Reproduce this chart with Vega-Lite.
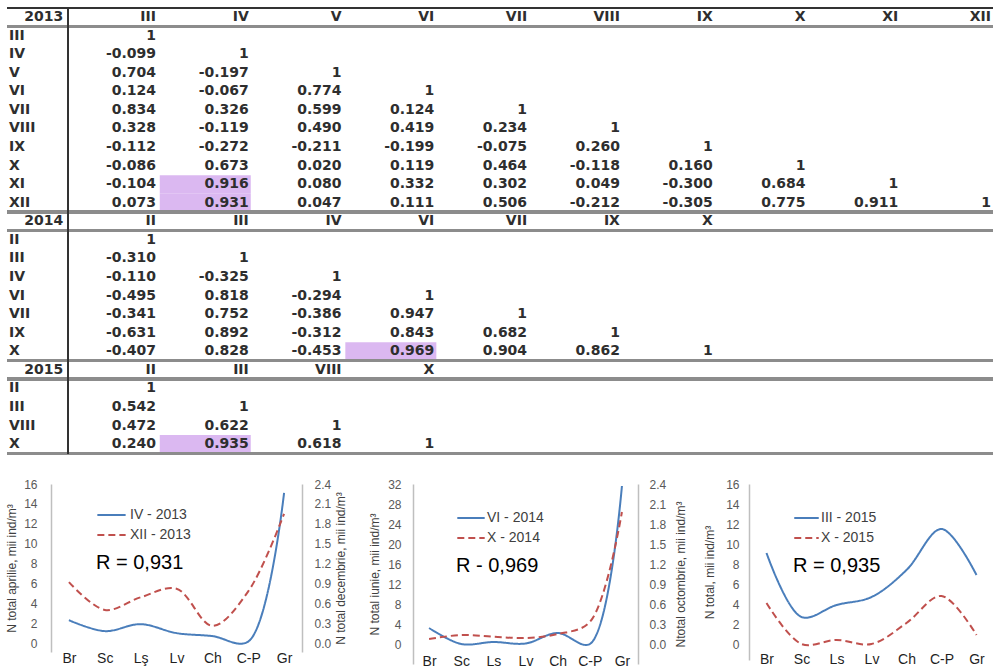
{
  "$schema": "https://vega.github.io/schema/vega-lite/v6.json",
  "padding": {"left": 5, "top": 0, "right": 0, "bottom": 0},
  "background": "white",
  "config": {"view": {"stroke": null}, "font": "Liberation Sans"},
  "datasets": {
    "cells": [
      {"r":0,"c":0,"t":"2013","h":1},{"r":0,"c":1,"t":"III","h":1},{"r":0,"c":2,"t":"IV","h":1},{"r":0,"c":3,"t":"V","h":1},{"r":0,"c":4,"t":"VI","h":1},{"r":0,"c":5,"t":"VII","h":1},{"r":0,"c":6,"t":"VIII","h":1},{"r":0,"c":7,"t":"IX","h":1},{"r":0,"c":8,"t":"X","h":1},{"r":0,"c":9,"t":"XI","h":1},{"r":0,"c":10,"t":"XII","h":1},
      {"r":1,"c":0,"t":"III"},{"r":1,"c":1,"t":"1"},
      {"r":2,"c":0,"t":"IV"},{"r":2,"c":1,"t":"-0.099"},{"r":2,"c":2,"t":"1"},
      {"r":3,"c":0,"t":"V"},{"r":3,"c":1,"t":"0.704"},{"r":3,"c":2,"t":"-0.197"},{"r":3,"c":3,"t":"1"},
      {"r":4,"c":0,"t":"VI"},{"r":4,"c":1,"t":"0.124"},{"r":4,"c":2,"t":"-0.067"},{"r":4,"c":3,"t":"0.774"},{"r":4,"c":4,"t":"1"},
      {"r":5,"c":0,"t":"VII"},{"r":5,"c":1,"t":"0.834"},{"r":5,"c":2,"t":"0.326"},{"r":5,"c":3,"t":"0.599"},{"r":5,"c":4,"t":"0.124"},{"r":5,"c":5,"t":"1"},
      {"r":6,"c":0,"t":"VIII"},{"r":6,"c":1,"t":"0.328"},{"r":6,"c":2,"t":"-0.119"},{"r":6,"c":3,"t":"0.490"},{"r":6,"c":4,"t":"0.419"},{"r":6,"c":5,"t":"0.234"},{"r":6,"c":6,"t":"1"},
      {"r":7,"c":0,"t":"IX"},{"r":7,"c":1,"t":"-0.112"},{"r":7,"c":2,"t":"-0.272"},{"r":7,"c":3,"t":"-0.211"},{"r":7,"c":4,"t":"-0.199"},{"r":7,"c":5,"t":"-0.075"},{"r":7,"c":6,"t":"0.260"},{"r":7,"c":7,"t":"1"},
      {"r":8,"c":0,"t":"X"},{"r":8,"c":1,"t":"-0.086"},{"r":8,"c":2,"t":"0.673"},{"r":8,"c":3,"t":"0.020"},{"r":8,"c":4,"t":"0.119"},{"r":8,"c":5,"t":"0.464"},{"r":8,"c":6,"t":"-0.118"},{"r":8,"c":7,"t":"0.160"},{"r":8,"c":8,"t":"1"},
      {"r":9,"c":0,"t":"XI"},{"r":9,"c":1,"t":"-0.104"},{"r":9,"c":2,"t":"0.916","hl":1},{"r":9,"c":3,"t":"0.080"},{"r":9,"c":4,"t":"0.332"},{"r":9,"c":5,"t":"0.302"},{"r":9,"c":6,"t":"0.049"},{"r":9,"c":7,"t":"-0.300"},{"r":9,"c":8,"t":"0.684"},{"r":9,"c":9,"t":"1"},
      {"r":10,"c":0,"t":"XII"},{"r":10,"c":1,"t":"0.073"},{"r":10,"c":2,"t":"0.931","hl":1},{"r":10,"c":3,"t":"0.047"},{"r":10,"c":4,"t":"0.111"},{"r":10,"c":5,"t":"0.506"},{"r":10,"c":6,"t":"-0.212"},{"r":10,"c":7,"t":"-0.305"},{"r":10,"c":8,"t":"0.775"},{"r":10,"c":9,"t":"0.911"},{"r":10,"c":10,"t":"1"},
      {"r":11,"c":0,"t":"2014","h":1},{"r":11,"c":1,"t":"II","h":1},{"r":11,"c":2,"t":"III","h":1},{"r":11,"c":3,"t":"IV","h":1},{"r":11,"c":4,"t":"VI","h":1},{"r":11,"c":5,"t":"VII","h":1},{"r":11,"c":6,"t":"IX","h":1},{"r":11,"c":7,"t":"X","h":1},
      {"r":12,"c":0,"t":"II"},{"r":12,"c":1,"t":"1"},
      {"r":13,"c":0,"t":"III"},{"r":13,"c":1,"t":"-0.310"},{"r":13,"c":2,"t":"1"},
      {"r":14,"c":0,"t":"IV"},{"r":14,"c":1,"t":"-0.110"},{"r":14,"c":2,"t":"-0.325"},{"r":14,"c":3,"t":"1"},
      {"r":15,"c":0,"t":"VI"},{"r":15,"c":1,"t":"-0.495"},{"r":15,"c":2,"t":"0.818"},{"r":15,"c":3,"t":"-0.294"},{"r":15,"c":4,"t":"1"},
      {"r":16,"c":0,"t":"VII"},{"r":16,"c":1,"t":"-0.341"},{"r":16,"c":2,"t":"0.752"},{"r":16,"c":3,"t":"-0.386"},{"r":16,"c":4,"t":"0.947"},{"r":16,"c":5,"t":"1"},
      {"r":17,"c":0,"t":"IX"},{"r":17,"c":1,"t":"-0.631"},{"r":17,"c":2,"t":"0.892"},{"r":17,"c":3,"t":"-0.312"},{"r":17,"c":4,"t":"0.843"},{"r":17,"c":5,"t":"0.682"},{"r":17,"c":6,"t":"1"},
      {"r":18,"c":0,"t":"X"},{"r":18,"c":1,"t":"-0.407"},{"r":18,"c":2,"t":"0.828"},{"r":18,"c":3,"t":"-0.453"},{"r":18,"c":4,"t":"0.969","hl":1},{"r":18,"c":5,"t":"0.904"},{"r":18,"c":6,"t":"0.862"},{"r":18,"c":7,"t":"1"},
      {"r":19,"c":0,"t":"2015","h":1},{"r":19,"c":1,"t":"II","h":1},{"r":19,"c":2,"t":"III","h":1},{"r":19,"c":3,"t":"VIII","h":1},{"r":19,"c":4,"t":"X","h":1},
      {"r":20,"c":0,"t":"II"},{"r":20,"c":1,"t":"1"},
      {"r":21,"c":0,"t":"III"},{"r":21,"c":1,"t":"0.542"},{"r":21,"c":2,"t":"1"},
      {"r":22,"c":0,"t":"VIII"},{"r":22,"c":1,"t":"0.472"},{"r":22,"c":2,"t":"0.622"},{"r":22,"c":3,"t":"1"},
      {"r":23,"c":0,"t":"X"},{"r":23,"c":1,"t":"0.240"},{"r":23,"c":2,"t":"0.935","hl":1},{"r":23,"c":3,"t":"0.618"},{"r":23,"c":4,"t":"1"}
    ],
    "curves": [
      {"chart":1,"series":"IV - 2013","axis":"L","site":"Br","value":2.3},
      {"chart":1,"series":"IV - 2013","axis":"L","site":"Sc","value":1.2},
      {"chart":1,"series":"IV - 2013","axis":"L","site":"Lş","value":1.9},
      {"chart":1,"series":"IV - 2013","axis":"L","site":"Lv","value":1.0},
      {"chart":1,"series":"IV - 2013","axis":"L","site":"Ch","value":0.7},
      {"chart":1,"series":"IV - 2013","axis":"L","site":"C-P","value":0.15},
      {"chart":1,"series":"IV - 2013","axis":"L","site":"Gr","value":15.1},
      {"chart":1,"series":"XII - 2013","axis":"R","site":"Br","value":0.92},
      {"chart":1,"series":"XII - 2013","axis":"R","site":"Sc","value":0.5},
      {"chart":1,"series":"XII - 2013","axis":"R","site":"Lş","value":0.69},
      {"chart":1,"series":"XII - 2013","axis":"R","site":"Lv","value":0.82},
      {"chart":1,"series":"XII - 2013","axis":"R","site":"Ch","value":0.26},
      {"chart":1,"series":"XII - 2013","axis":"R","site":"C-P","value":0.78},
      {"chart":1,"series":"XII - 2013","axis":"R","site":"Gr","value":1.95},
      {"chart":2,"series":"VI - 2014","axis":"L","site":"Br","value":3.2},
      {"chart":2,"series":"VI - 2014","axis":"L","site":"Sc","value":0.0},
      {"chart":2,"series":"VI - 2014","axis":"L","site":"Ls","value":0.4},
      {"chart":2,"series":"VI - 2014","axis":"L","site":"Lv","value":0.1},
      {"chart":2,"series":"VI - 2014","axis":"L","site":"Ch","value":2.2},
      {"chart":2,"series":"VI - 2014","axis":"L","site":"C-P","value":0.0},
      {"chart":2,"series":"VI - 2014","axis":"L","site":"Gr","value":31.6},
      {"chart":2,"series":"X - 2014","axis":"R","site":"Br","value":0.075},
      {"chart":2,"series":"X - 2014","axis":"R","site":"Sc","value":0.135},
      {"chart":2,"series":"X - 2014","axis":"R","site":"Ls","value":0.11},
      {"chart":2,"series":"X - 2014","axis":"R","site":"Lv","value":0.09},
      {"chart":2,"series":"X - 2014","axis":"R","site":"Ch","value":0.15},
      {"chart":2,"series":"X - 2014","axis":"R","site":"C-P","value":0.33},
      {"chart":2,"series":"X - 2014","axis":"R","site":"Gr","value":1.98},
      {"chart":3,"series":"III - 2015","axis":"L","site":"Br","value":9.1},
      {"chart":3,"series":"III - 2015","axis":"L","site":"Sc","value":2.7},
      {"chart":3,"series":"III - 2015","axis":"L","site":"Ls","value":3.9},
      {"chart":3,"series":"III - 2015","axis":"L","site":"Lv","value":4.7},
      {"chart":3,"series":"III - 2015","axis":"L","site":"Ch","value":7.4},
      {"chart":3,"series":"III - 2015","axis":"L","site":"C-P","value":11.5},
      {"chart":3,"series":"III - 2015","axis":"L","site":"Gr","value":6.9},
      {"chart":3,"series":"X - 2015","axis":"L","site":"Br","value":4.1},
      {"chart":3,"series":"X - 2015","axis":"L","site":"Sc","value":0.0},
      {"chart":3,"series":"X - 2015","axis":"L","site":"Ls","value":0.4},
      {"chart":3,"series":"X - 2015","axis":"L","site":"Lv","value":0.0},
      {"chart":3,"series":"X - 2015","axis":"L","site":"Ch","value":2.1},
      {"chart":3,"series":"X - 2015","axis":"L","site":"C-P","value":4.8},
      {"chart":3,"series":"X - 2015","axis":"L","site":"Gr","value":0.9}
    ]
  },
  "vconcat": [
    {
      "width": 943,
      "height": 455,
      "data": {"name": "cells"},
      "encoding": {
        "x": {"field": "c", "type": "quantitative", "scale": {"domain": [-0.1315, 10.032], "nice": false, "zero": false}, "axis": null},
        "y": {"field": "r", "type": "quantitative", "scale": {"domain": [-0.9155, 23.587], "nice": false, "zero": false, "reverse": true}, "axis": null}
      },
      "layer": [
        {
          "transform": [{"filter": "datum.hl == 1"}],
          "mark": {"type": "rect", "color": "#dbb8f1", "xOffset": -89, "x2Offset": 2, "yOffset": -9, "y2Offset": 9.5},
          "encoding": {"x2": {"field": "c"}, "y2": {"field": "r"}}
        },
        {"mark": {"type": "rule", "color": "#333333", "strokeWidth": 1.5}, "encoding": {"x": {"datum": -0.6, "type": "quantitative"}, "x2": {"datum": 10.04}, "y": {"datum": -0.48, "type": "quantitative"}}},
        {"mark": {"type": "rule", "color": "#8c8c8c", "strokeWidth": 2.5}, "encoding": {"x": {"datum": -0.6, "type": "quantitative"}, "x2": {"datum": 10.04}, "y": {"datum": 0.5, "type": "quantitative"}}},
        {"mark": {"type": "rule", "color": "#8c8c8c", "strokeWidth": 2.5}, "encoding": {"x": {"datum": -0.6, "type": "quantitative"}, "x2": {"datum": 10.04}, "y": {"datum": 10.5, "type": "quantitative"}}},
        {"mark": {"type": "rule", "color": "#8c8c8c", "strokeWidth": 2.5}, "encoding": {"x": {"datum": -0.6, "type": "quantitative"}, "x2": {"datum": 10.04}, "y": {"datum": 11.5, "type": "quantitative"}}},
        {"mark": {"type": "rule", "color": "#8c8c8c", "strokeWidth": 2.5}, "encoding": {"x": {"datum": -0.6, "type": "quantitative"}, "x2": {"datum": 10.04}, "y": {"datum": 18.5, "type": "quantitative"}}},
        {"mark": {"type": "rule", "color": "#8c8c8c", "strokeWidth": 2.5}, "encoding": {"x": {"datum": -0.6, "type": "quantitative"}, "x2": {"datum": 10.04}, "y": {"datum": 19.5, "type": "quantitative"}}},
        {"mark": {"type": "rule", "color": "#8c8c8c", "strokeWidth": 2.5}, "encoding": {"x": {"datum": -0.6, "type": "quantitative"}, "x2": {"datum": 10.04}, "y": {"datum": 23.5, "type": "quantitative"}}},
        {"mark": {"type": "rule", "color": "#333333", "strokeWidth": 1.5}, "encoding": {"x": {"datum": 0.052, "type": "quantitative"}, "y": {"datum": -0.48, "type": "quantitative"}, "y2": {"datum": 23.5}}},
        {
          "transform": [{"filter": "datum.c >= 1 || datum.h == 1"}],
          "mark": {"type": "text", "align": "right", "baseline": "middle", "font": "DejaVu Sans", "fontWeight": "bold", "fontSize": 14, "color": "#2e2e2e"},
          "encoding": {"text": {"field": "t"}}
        },
        {
          "transform": [{"filter": "datum.c == 0 && datum.h != 1"}],
          "mark": {"type": "text", "align": "left", "baseline": "middle", "dx": -54.2, "font": "DejaVu Sans", "fontWeight": "bold", "fontSize": 14, "color": "#2e2e2e"},
          "encoding": {"text": {"field": "t"}}
        }
      ]
    },
    {
      "bounds": "flush",
      "spacing": 111,
      "resolve": {"scale": {"color": "independent", "strokeDash": "independent"}, "legend": {"color": "independent", "strokeDash": "independent"}},
      "hconcat": [
        {
          "width": 251,
          "height": 168,
          "data": {"name": "curves"},
          "transform": [{"filter": "datum.chart == 1"}],
          "encoding": {
            "x": {"field": "site", "type": "nominal", "scale": {"type": "point", "domain": ["Br","Sc","Lş","Lv","Ch","C-P","Gr"], "padding": 0.5}, "axis": {"title": null, "domain": false, "ticks": false, "labelAngle": 0, "labelFontSize": 14, "labelColor": "#1f1f1f", "labelPadding": -1}},
            "color": {"field": "series", "type": "nominal", "scale": {"domain": ["IV - 2013","XII - 2013"], "range": ["#4a7ebb","#c0504d"]},
              "legend": {"title": "R = 0,931", "orient": "none", "legendX": 45, "legendY": 21, "direction": "vertical", "titleOrient": "bottom", "titleAnchor": "start", "titleFontSize": 20, "titleFontWeight": "normal", "titleColor": "#000000", "titlePadding": 8, "symbolType": "stroke", "symbolSize": 800, "symbolStrokeWidth": 2, "labelFontSize": 14, "labelColor": "#404040", "labelOffset": 3, "rowPadding": 0, "clipHeight": 20, "padding": 0}},
            "strokeDash": {"field": "series", "type": "nominal", "scale": {"domain": ["IV - 2013","XII - 2013"], "range": [[1,0],[7,4]]},
              "legend": {"title": "R = 0,931", "orient": "none", "legendX": 45, "legendY": 21, "direction": "vertical", "titleOrient": "bottom", "titleAnchor": "start", "titleFontSize": 20, "titleFontWeight": "normal", "titleColor": "#000000", "titlePadding": 8, "symbolType": "stroke", "symbolSize": 800, "symbolStrokeWidth": 2, "labelFontSize": 14, "labelColor": "#404040", "labelOffset": 3, "rowPadding": 0, "clipHeight": 20, "padding": 0}}
          },
          "layer": [
            {
              "transform": [{"filter": "datum.axis == 'L'"}],
              "mark": {"type": "line", "interpolate": "catmull-rom", "strokeWidth": 2},
              "encoding": {"y": {"field": "value", "type": "quantitative", "scale": {"domain": [-0.9, 16], "nice": false, "zero": false},
                "axis": {"title": "N total aprilie, mii ind/m³", "values": [0,2,4,6,8,10,12,14,16], "grid": false, "ticks": false, "domainColor": "#bfbfbf", "domainWidth": 1.5, "labelColor": "#595959", "labelFontSize": 12, "labelPadding": 14, "titleFontSize": 12, "titleFontWeight": "normal", "titleColor": "#404040", "titlePadding": 5}}}
            },
            {
              "transform": [{"filter": "datum.axis == 'R'"}],
              "mark": {"type": "line", "interpolate": "catmull-rom", "strokeWidth": 2},
              "encoding": {"y": {"field": "value", "type": "quantitative", "scale": {"domain": [-0.135, 2.4], "nice": false, "zero": false},
                "axis": {"orient": "right", "title": "N total decembrie, mii ind/m³", "values": [0,0.3,0.6,0.9,1.2,1.5,1.8,2.1,2.4], "format": ".1f", "grid": false, "ticks": false, "domainColor": "#bfbfbf", "domainWidth": 1.5, "labelColor": "#595959", "labelFontSize": 12, "labelPadding": 12, "titleFontSize": 12, "titleFontWeight": "normal", "titleColor": "#404040", "titlePadding": 5, "titleAngle": 270, "titleBaseline": "top"}}}
            }
          ],
          "resolve": {"scale": {"y": "independent"}}
        },
        {
          "width": 225,
          "height": 180,
          "data": {"name": "curves"},
          "transform": [{"filter": "datum.chart == 2"}],
          "encoding": {
            "x": {"field": "site", "type": "nominal", "scale": {"type": "point", "domain": ["Br","Sc","Ls","Lv","Ch","C-P","Gr"], "padding": 0.5}, "axis": {"title": null, "domain": false, "ticks": false, "labelAngle": 0, "labelFontSize": 14, "labelColor": "#1f1f1f", "labelPadding": -10}},
            "color": {"field": "series", "type": "nominal", "scale": {"domain": ["VI - 2014","X - 2014"], "range": ["#4a7ebb","#c0504d"]},
              "legend": {"title": "R - 0,969", "orient": "none", "legendX": 43, "legendY": 24, "direction": "vertical", "titleOrient": "bottom", "titleAnchor": "start", "titleFontSize": 20, "titleFontWeight": "normal", "titleColor": "#000000", "titlePadding": 8, "symbolType": "stroke", "symbolSize": 750, "symbolStrokeWidth": 2, "labelFontSize": 14, "labelColor": "#404040", "labelOffset": 1, "rowPadding": 0, "clipHeight": 20, "padding": 0}},
            "strokeDash": {"field": "series", "type": "nominal", "scale": {"domain": ["VI - 2014","X - 2014"], "range": [[1,0],[7,4]]},
              "legend": {"title": "R - 0,969", "orient": "none", "legendX": 43, "legendY": 24, "direction": "vertical", "titleOrient": "bottom", "titleAnchor": "start", "titleFontSize": 20, "titleFontWeight": "normal", "titleColor": "#000000", "titlePadding": 8, "symbolType": "stroke", "symbolSize": 750, "symbolStrokeWidth": 2, "labelFontSize": 14, "labelColor": "#404040", "labelOffset": 1, "rowPadding": 0, "clipHeight": 20, "padding": 0}}
          },
          "layer": [
            {
              "transform": [{"filter": "datum.axis == 'L'"}],
              "mark": {"type": "line", "interpolate": "catmull-rom", "strokeWidth": 2},
              "encoding": {"y": {"field": "value", "type": "quantitative", "scale": {"domain": [-4, 32], "nice": false, "zero": false},
                "axis": {"title": "N total iunie, mii ind/m³", "values": [0,4,8,12,16,20,24,28,32], "grid": false, "ticks": false, "domainColor": "#bfbfbf", "domainWidth": 1.5, "labelColor": "#595959", "labelFontSize": 12, "labelPadding": 12, "titleFontSize": 12, "titleFontWeight": "normal", "titleColor": "#404040", "titlePadding": 6}}}
            },
            {
              "transform": [{"filter": "datum.axis == 'R'"}],
              "mark": {"type": "line", "interpolate": "catmull-rom", "strokeWidth": 2},
              "encoding": {"y": {"field": "value", "type": "quantitative", "scale": {"domain": [-0.3, 2.4], "nice": false, "zero": false},
                "axis": {"orient": "right", "title": "Ntotal octombrie, mii ind/m³", "values": [0,0.3,0.6,0.9,1.2,1.5,1.8,2.1,2.4], "format": ".1f", "grid": false, "ticks": false, "domainColor": "#bfbfbf", "domainWidth": 1.5, "labelColor": "#595959", "labelFontSize": 12, "labelPadding": 11, "titleFontSize": 12, "titleFontWeight": "normal", "titleColor": "#404040", "titlePadding": 10, "titleAngle": 270, "titleBaseline": "top"}}}
            }
          ],
          "resolve": {"scale": {"y": "independent"}}
        },
        {
          "width": 245,
          "height": 176,
          "data": {"name": "curves"},
          "transform": [{"filter": "datum.chart == 3"}],
          "mark": {"type": "line", "interpolate": "catmull-rom", "strokeWidth": 2},
          "encoding": {
            "x": {"field": "site", "type": "nominal", "scale": {"type": "point", "domain": ["Br","Sc","Ls","Lv","Ch","C-P","Gr"], "padding": 0.5}, "axis": {"title": null, "domain": false, "ticks": false, "labelAngle": 0, "labelFontSize": 14, "labelColor": "#1f1f1f", "labelPadding": -8}},
            "y": {"field": "value", "type": "quantitative", "scale": {"domain": [-1.6, 16], "nice": false, "zero": false},
              "axis": {"title": "N total, mii ind/m³", "values": [0,2,4,6,8,10,12,14,16], "grid": false, "ticks": false, "domainColor": "#bfbfbf", "domainWidth": 1.5, "labelColor": "#595959", "labelFontSize": 12, "labelPadding": 10, "titleFontSize": 12, "titleFontWeight": "normal", "titleColor": "#404040", "titlePadding": 9}},
            "color": {"field": "series", "type": "nominal", "scale": {"domain": ["III - 2015","X - 2015"], "range": ["#4a7ebb","#c0504d"]},
              "legend": {"title": "R = 0,935", "orient": "none", "legendX": 44, "legendY": 24, "direction": "vertical", "titleOrient": "bottom", "titleAnchor": "start", "titleFontSize": 20, "titleFontWeight": "normal", "titleColor": "#000000", "titlePadding": 8, "symbolType": "stroke", "symbolSize": 600, "symbolStrokeWidth": 2, "labelFontSize": 14, "labelColor": "#404040", "labelOffset": 1, "rowPadding": 0, "clipHeight": 20, "padding": 0}},
            "strokeDash": {"field": "series", "type": "nominal", "scale": {"domain": ["III - 2015","X - 2015"], "range": [[1,0],[7,4]]},
              "legend": {"title": "R = 0,935", "orient": "none", "legendX": 44, "legendY": 24, "direction": "vertical", "titleOrient": "bottom", "titleAnchor": "start", "titleFontSize": 20, "titleFontWeight": "normal", "titleColor": "#000000", "titlePadding": 8, "symbolType": "stroke", "symbolSize": 600, "symbolStrokeWidth": 2, "labelFontSize": 14, "labelColor": "#404040", "labelOffset": 1, "rowPadding": 0, "clipHeight": 20, "padding": 0}}
          }
        }
      ]
    }
  ],
  "spacing": 23
}
